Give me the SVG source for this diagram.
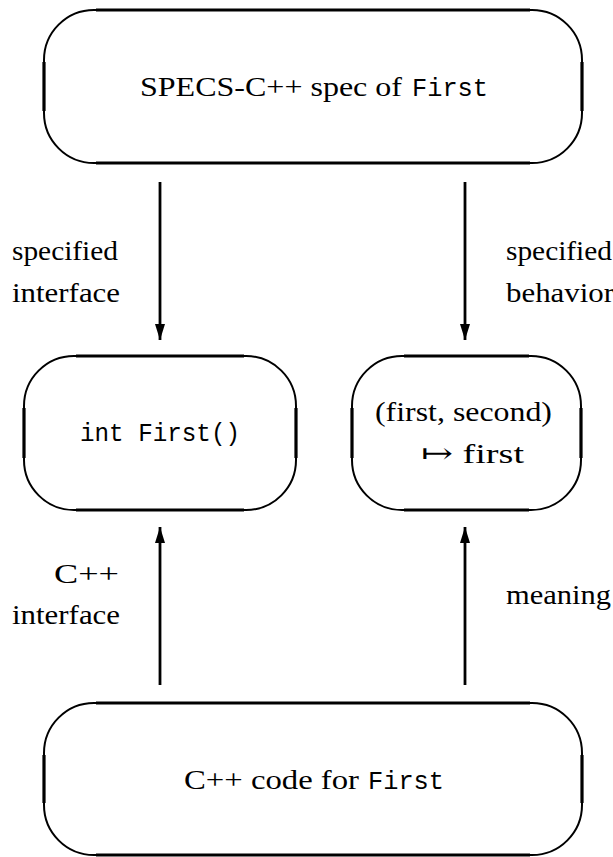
<svg xmlns="http://www.w3.org/2000/svg" width="613" height="857" viewBox="0 0 613 857">
<style>
.box{fill:none;stroke:#000;stroke-width:2}
.side{stroke:#000;stroke-width:3.2}
.edge{stroke:#000;stroke-width:2.8;fill:none}
.t{font-family:"Liberation Serif","DejaVu Serif",serif;font-size:28px;fill:#000}
.m{font-family:"Liberation Mono","DejaVu Sans Mono",monospace;font-size:26px;fill:#000}
</style>
<defs>
<marker id="ah" viewBox="0 0 16 10" refX="16" refY="5" markerWidth="16" markerHeight="10" markerUnits="userSpaceOnUse" orient="auto">
<path d="M0,0 L16,5 L0,10 Z" fill="#000"/>
</marker>
</defs>
<rect width="613" height="857" fill="#fff"/>
<g id="spec">
<rect class="box" x="44" y="10" width="538" height="153" rx="50" ry="50"/>
<path class="side" d="M44,62V111M582,62V111M96,10H530M96,163H530"/>
<text class="t" x="140" y="96" textLength="262" lengthAdjust="spacingAndGlyphs">SPECS-C++ spec of</text>
<text class="m" x="412" y="96" textLength="76" lengthAdjust="spacingAndGlyphs">First</text>
</g>
<g id="iface">
<rect class="box" x="24" y="356" width="272" height="154" rx="50" ry="50"/>
<path class="side" d="M24,408V458M296,408V458M76,356H244M76,510H244"/>
<text class="m" x="80" y="441" textLength="160" lengthAdjust="spacingAndGlyphs">int First()</text>
</g>
<g id="behav">
<rect class="box" x="352" y="356" width="229" height="154" rx="50" ry="50"/>
<path class="side" d="M352,408V458M581,408V458M404,356H529M404,510H529"/>
<text class="t" x="375" y="421" textLength="177" lengthAdjust="spacingAndGlyphs">(first, second)</text>
<text class="t" x="421" y="463" textLength="103" lengthAdjust="spacingAndGlyphs">↦ first</text>
</g>
<g id="code">
<rect class="box" x="44" y="703" width="538" height="152" rx="50" ry="50"/>
<path class="side" d="M44,755V803M582,755V803M96,703H530M96,855H530"/>
<text class="t" x="184" y="789" textLength="175" lengthAdjust="spacingAndGlyphs">C++ code for</text>
<text class="m" x="368" y="789" textLength="76" lengthAdjust="spacingAndGlyphs">First</text>
</g>
<g id="connectors">
<line class="edge" x1="160" y1="182" x2="160" y2="340" marker-end="url(#ah)"/>
<line class="edge" x1="465" y1="182" x2="465" y2="340" marker-end="url(#ah)"/>
<line class="edge" x1="160" y1="685" x2="160" y2="527" marker-end="url(#ah)"/>
<line class="edge" x1="465" y1="685" x2="465" y2="527" marker-end="url(#ah)"/>
<text class="t" x="12" y="260" textLength="106" lengthAdjust="spacingAndGlyphs">specified</text>
<text class="t" x="12" y="302" textLength="108" lengthAdjust="spacingAndGlyphs">interface</text>
<text class="t" x="506" y="260" textLength="106" lengthAdjust="spacingAndGlyphs">specified</text>
<text class="t" x="506" y="302" textLength="108" lengthAdjust="spacingAndGlyphs">behavior</text>
<text class="t" x="54" y="583" textLength="65" lengthAdjust="spacingAndGlyphs">C++</text>
<text class="t" x="12" y="624" textLength="108" lengthAdjust="spacingAndGlyphs">interface</text>
<text class="t" x="506" y="604" textLength="105" lengthAdjust="spacingAndGlyphs">meaning</text>
</g>
</svg>
